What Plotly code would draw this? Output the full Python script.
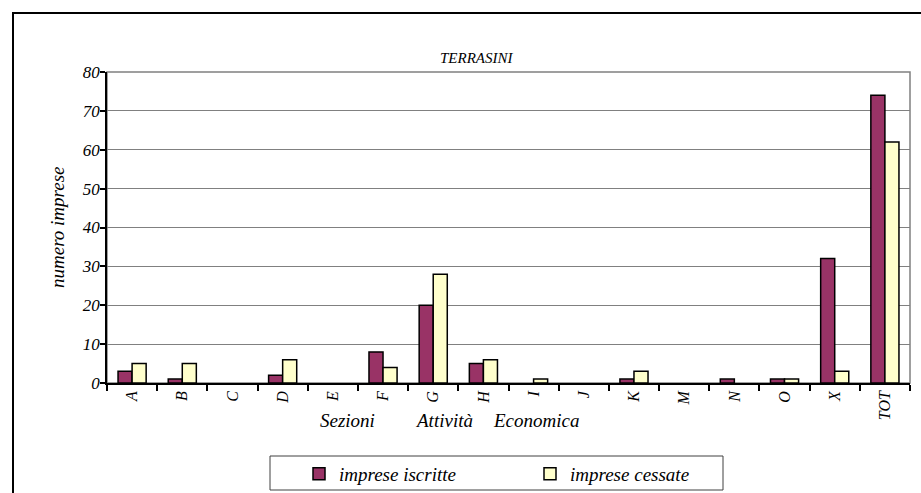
import plotly.graph_objects as go

categories = ["A", "B", "C", "D", "E", "F", "G", "H", "I", "J", "K", "M", "N", "O", "X", "TOT"]
iscritte = [3, 1, 0, 2, 0, 8, 20, 5, 0, 0, 1, 0, 1, 1, 32, 74]
cessate = [5, 5, 0, 6, 0, 4, 28, 6, 1, 0, 3, 0, 0, 1, 3, 62]
y_ticks = [0, 10, 20, 30, 40, 50, 60, 70, 80]

FONT = "Liberation Serif, Times New Roman, serif"
W, H = 921, 493
L, R, T, B = 107, 11, 72, 110
PW = W - L - R
PH = H - T - B


def px(x):
    return (x - L) / PW


def py(y):
    return (H - B - y) / PH


def nz(vals):
    # zero-valued bars are not drawn in the reference
    return [v if v else None for v in vals]


fig = go.Figure()
fig.add_trace(go.Bar(x=categories, y=nz(iscritte), name="imprese iscritte",
                     marker=dict(color="#993366", line=dict(color="black", width=1.5))))
fig.add_trace(go.Bar(x=categories, y=nz(cessate), name="imprese cessate",
                     marker=dict(color="#FFFFCC", line=dict(color="black", width=1.5))))

fig.update_layout(
    width=W, height=H,
    margin=dict(l=L, r=R, t=T, b=B, autoexpand=False),
    paper_bgcolor="white", plot_bgcolor="white",
    barmode="group", bargap=0.44, bargroupgap=0,
    font=dict(family=FONT, size=15, color="black", style="italic"),
    showlegend=True,
    legend=dict(orientation="h", x=px(299), y=py(474), xanchor="left", yanchor="middle",
                font=dict(family=FONT, size=19, style="italic"),
                entrywidth=186, entrywidthmode="pixels",
                bgcolor="rgba(0,0,0,0)", borderwidth=0),
    xaxis=dict(type="category", tickangle=-90, ticks="outside", ticklen=6, tickwidth=1.5,
               tickcolor="black", tickson="boundaries", showline=True, linecolor="black",
               linewidth=1.5, showgrid=False, automargin=False,
               tickfont=dict(family=FONT, size=16, style="italic")),
    yaxis=dict(range=[0, 80], tickvals=y_ticks, ticks="outside", ticklen=5, tickwidth=1.5,
               tickcolor="black", showline=True, linecolor="black", linewidth=1.5,
               showgrid=True, gridcolor="#808080", gridwidth=1, zeroline=False, automargin=False,
               ticklabelstandoff=-3,
               tickfont=dict(family=FONT, size=17, style="italic")),
)

# outer chart border
fig.add_shape(type="rect", xref="paper", yref="paper", x0=px(13), x1=1.2, y0=-0.6, y1=py(13),
              line=dict(color="black", width=2), layer="below")
# plot area border (gray)
fig.add_shape(type="rect", xref="paper", yref="paper", x0=0, x1=1, y0=0, y1=1,
              line=dict(color="#808080", width=1.5), layer="below")
# legend box
fig.add_shape(type="rect", xref="paper", yref="paper", x0=px(270), x1=px(723), y0=py(490), y1=py(456),
              line=dict(color="#404040", width=1), layer="below")

fig.add_annotation(text="TERRASINI", xref="paper", yref="paper", x=px(476), y=py(58),
                   xanchor="center", yanchor="middle",
                   showarrow=False, font=dict(family=FONT, size=15, style="italic"))
fig.add_annotation(text="numero imprese", xref="paper", yref="paper", x=px(57), y=py(227),
                   xanchor="center", yanchor="middle",
                   textangle=-90, showarrow=False, font=dict(family=FONT, size=19, style="italic"))
for word, cx in [("Sezioni", 347), ("Attività", 444), ("Economica", 536)]:
    fig.add_annotation(text=word, xref="paper", yref="paper", x=px(cx), y=py(420),
                       xanchor="center", yanchor="middle",
                       showarrow=False, font=dict(family=FONT, size=19, style="italic"))

fig.write_html("out.html", config={"displayModeBar": False},
               post_script="document.body.style.margin='0';document.body.style.overflow='hidden';")
